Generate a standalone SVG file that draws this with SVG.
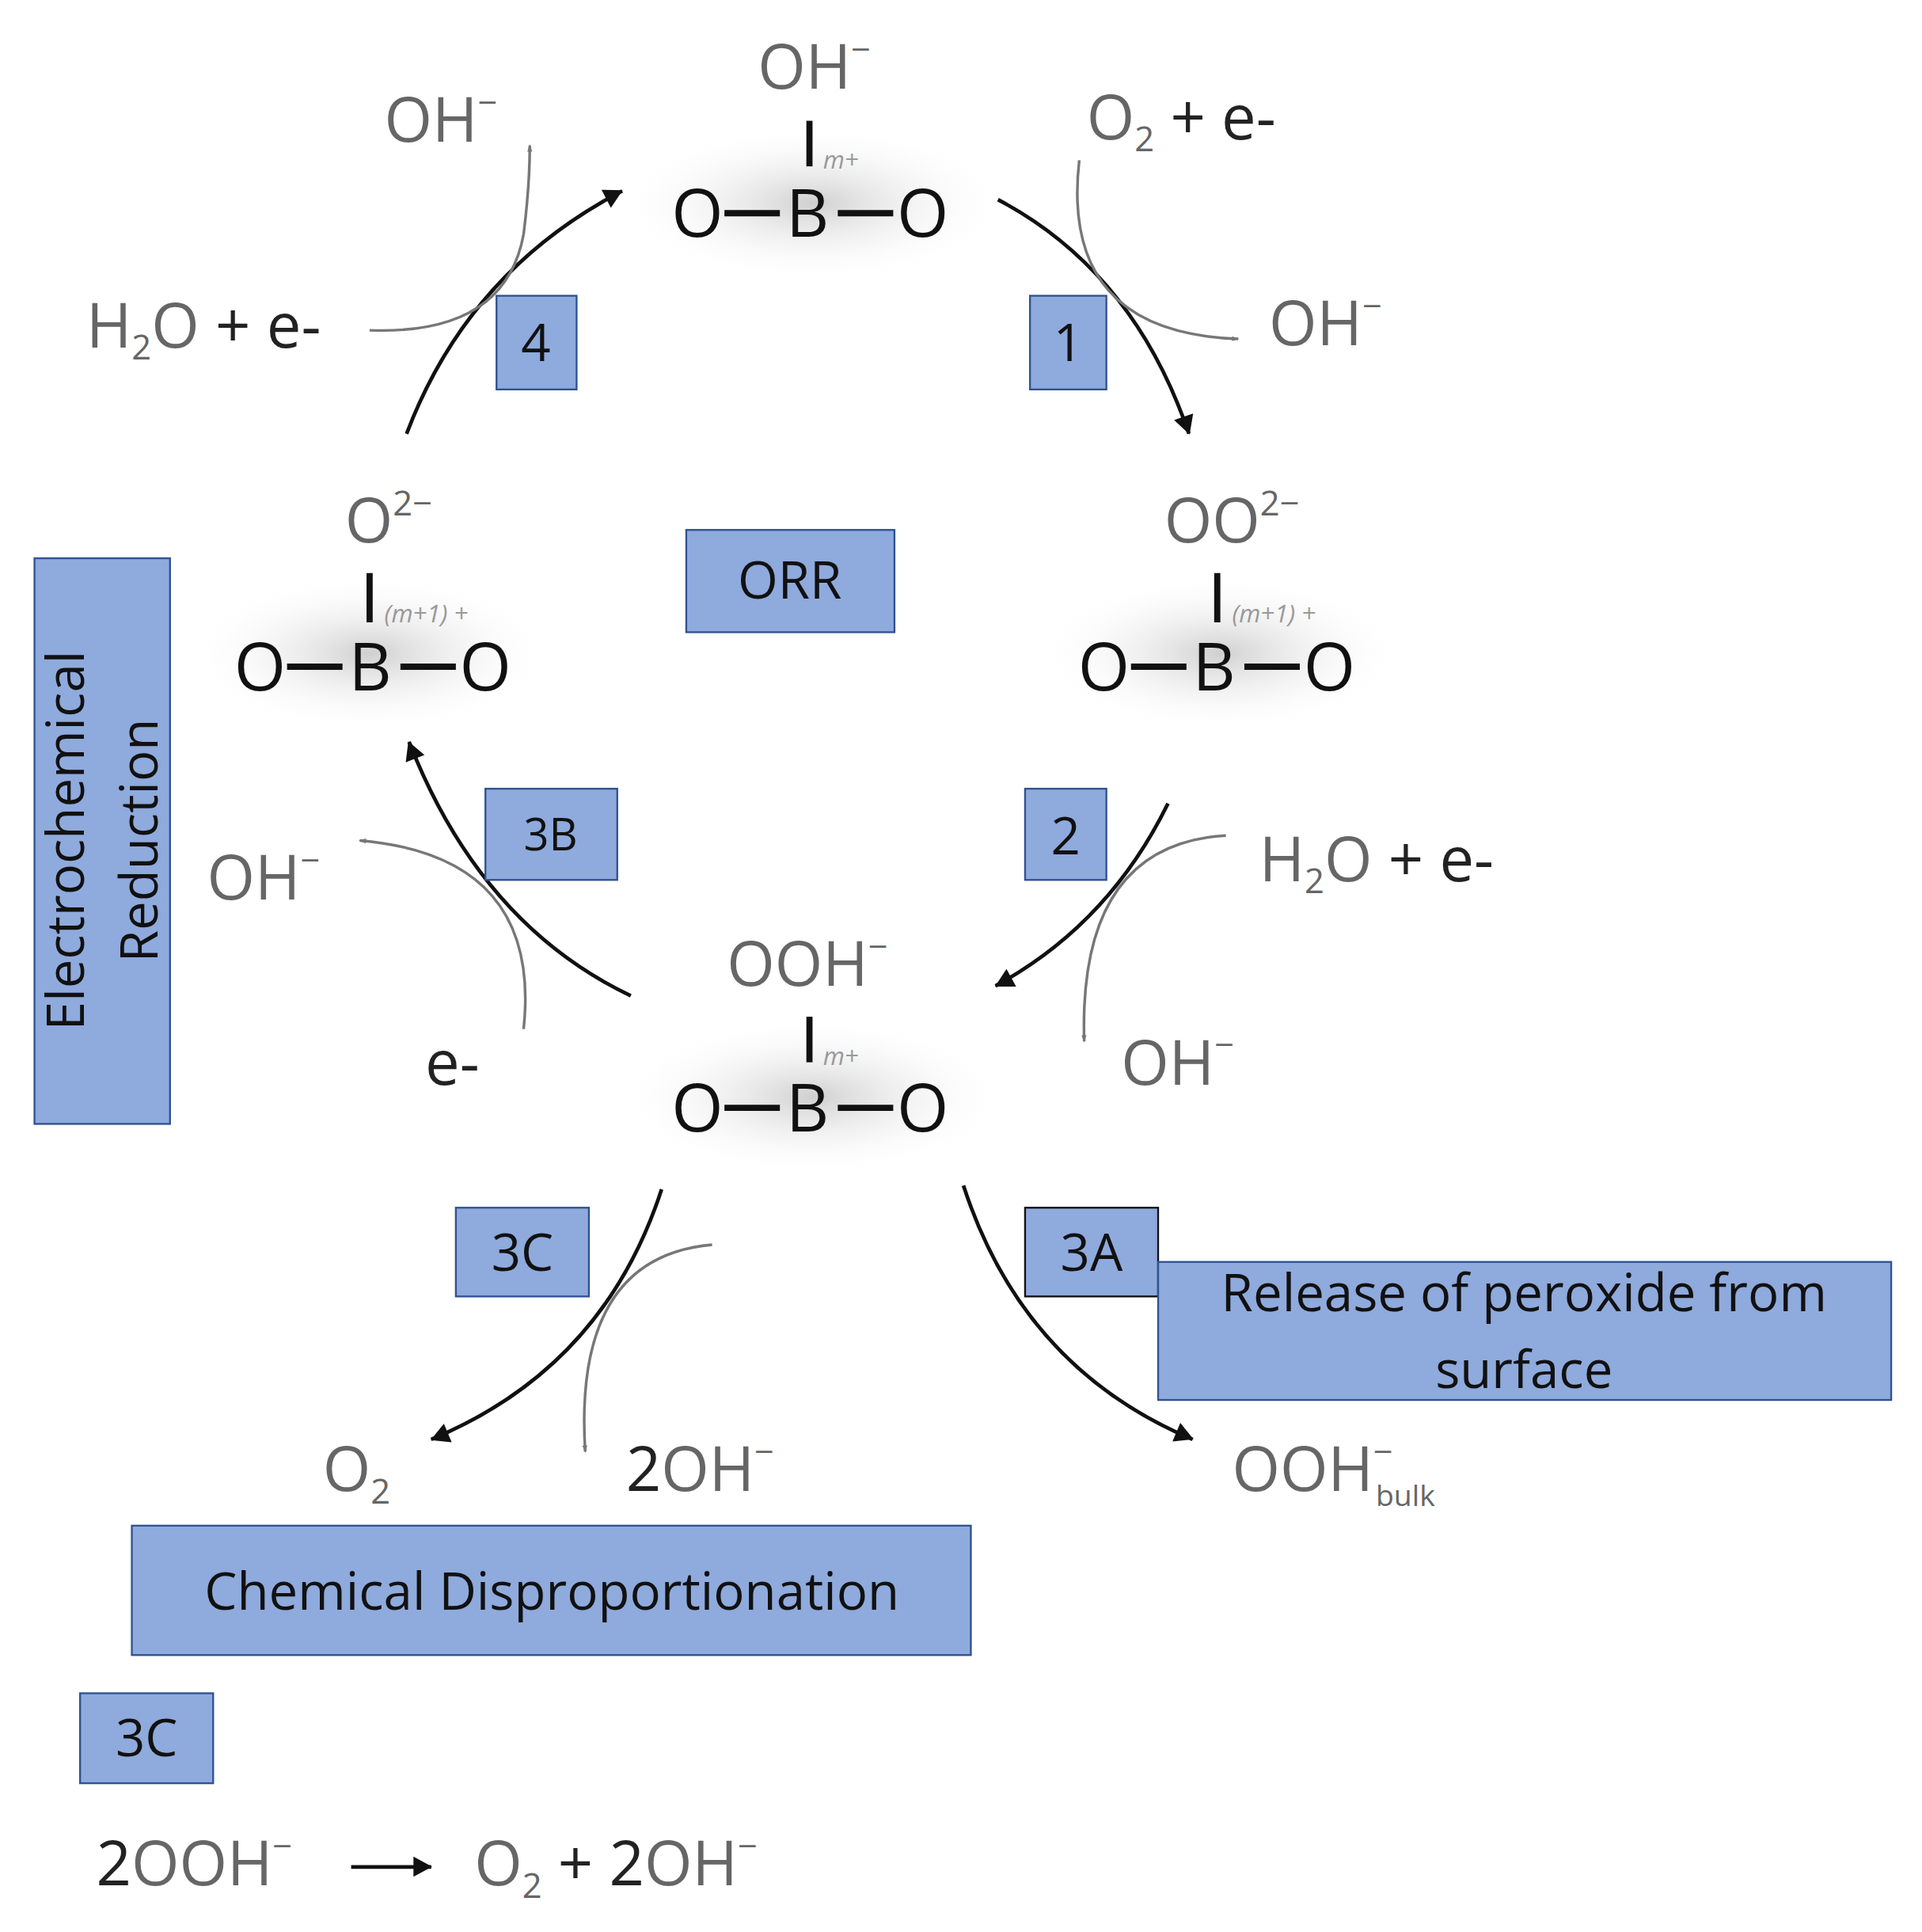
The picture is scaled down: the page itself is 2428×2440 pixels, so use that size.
<svg xmlns="http://www.w3.org/2000/svg" width="2428" height="2440" viewBox="0 0 2428 2440">
<style>
text{font-family:"Open Sans","Noto Sans","Liberation Sans",sans-serif}
.m{font-size:54px;fill:#111}
.g{font-size:50px;fill:#666}
.k{font-size:50px;fill:#222}
.sup{font-size:28px}
.sub{font-size:28px}
.it{font-size:20px;font-style:italic;fill:#999}
.box{fill:#8FAADC;stroke:#2F528F;stroke-width:1.5}
.bt{font-size:42px;fill:#111;text-anchor:middle}
.bond{stroke:#111;stroke-width:5}
.ar{fill:none;stroke:#111;stroke-width:3}
.ga{fill:none;stroke:#777;stroke-width:2.2}
</style>
<defs>
<marker id="ah" viewBox="0 0 10 10" refX="8" refY="5" markerWidth="7" markerHeight="7" orient="auto" markerUnits="userSpaceOnUse" style="overflow:visible"><path d="M-14,-8 L10,5 L-14,18 Z" transform="scale(0.9)" fill="#111"/></marker>
<marker id="gh" viewBox="0 0 10 10" refX="8" refY="5" markerWidth="5" markerHeight="5" orient="auto" markerUnits="userSpaceOnUse" style="overflow:visible"><path d="M-2,1 L10,5 L-2,9 Z" fill="#777"/></marker>
<radialGradient id="sh" cx="0.5" cy="0.5" r="0.5"><stop offset="0" stop-color="#bbb" stop-opacity="0.7"/><stop offset="1" stop-color="#fff" stop-opacity="0"/></radialGradient>
</defs>
<rect width="2428" height="2440" fill="#fff"/>
<g transform="scale(1.5564)">
<g id="shadows">
<ellipse cx="660" cy="165" rx="160" ry="65" fill="url(#sh)"/>
<ellipse cx="300" cy="530" rx="150" ry="65" fill="url(#sh)"/>
<ellipse cx="990" cy="530" rx="150" ry="65" fill="url(#sh)"/>
<ellipse cx="660" cy="890" rx="160" ry="65" fill="url(#sh)"/>
</g>
<g id="mol-top">
<text x="615" y="72" class="g">OH<tspan class="sup" dy="-22">−</tspan></text>
<line x1="657" y1="98" x2="657" y2="135" class="bond"/>
<text x="668" y="137" class="it">m+</text>
<text x="545" y="192" class="m">O</text><line x1="588" y1="173" x2="633" y2="173" class="bond"/>
<text x="638" y="192" class="m">B</text><line x1="680" y1="173" x2="725" y2="173" class="bond"/>
<text x="728" y="192" class="m">O</text>
</g>
<g id="mol-left">
<text x="280" y="440" class="g">O<tspan class="sup" dy="-22">2−</tspan></text>
<line x1="300" y1="465" x2="300" y2="505" class="bond"/>
<text x="312" y="505" class="it">(m+1) +</text>
<text x="190" y="560" class="m">O</text><line x1="233" y1="541" x2="278" y2="541" class="bond"/>
<text x="283" y="560" class="m">B</text><line x1="325" y1="541" x2="370" y2="541" class="bond"/>
<text x="373" y="560" class="m">O</text>
</g>
<g id="mol-right">
<text x="945" y="440" class="g">OO<tspan class="sup" dy="-22">2−</tspan></text>
<line x1="988" y1="465" x2="988" y2="505" class="bond"/>
<text x="1000" y="505" class="it">(m+1) +</text>
<text x="875" y="560" class="m">O</text><line x1="918" y1="541" x2="963" y2="541" class="bond"/>
<text x="968" y="560" class="m">B</text><line x1="1010" y1="541" x2="1055" y2="541" class="bond"/>
<text x="1058" y="560" class="m">O</text>
</g>
<g id="mol-bottom">
<text x="590" y="800" class="g">OOH<tspan class="sup" dy="-22">−</tspan></text>
<line x1="657" y1="825" x2="657" y2="862" class="bond"/>
<text x="668" y="864" class="it">m+</text>
<text x="545" y="918" class="m">O</text><line x1="588" y1="899" x2="633" y2="899" class="bond"/>
<text x="638" y="918" class="m">B</text><line x1="680" y1="899" x2="725" y2="899" class="bond"/>
<text x="728" y="918" class="m">O</text>
</g>
<g id="labels">
<text x="312" y="115" class="g">OH<tspan class="sup" dy="-22">−</tspan></text>
<text x="882" y="113" class="g">O<tspan class="sub" dy="10">2</tspan><tspan dy="-10" fill="#222"> + e-</tspan></text>
<text x="1030" y="280" class="g">OH<tspan class="sup" dy="-22">−</tspan></text>
<text x="70" y="282" class="g">H<tspan class="sub" dy="10">2</tspan><tspan dy="-10">O</tspan><tspan fill="#222"> + e-</tspan></text>
<text x="168" y="730" class="g">OH<tspan class="sup" dy="-22">−</tspan></text>
<text x="345" y="880" class="k">e-</text>
<text x="1022" y="715" class="g">H<tspan class="sub" dy="10">2</tspan><tspan dy="-10">O</tspan><tspan fill="#222"> + e-</tspan></text>
<text x="910" y="880" class="g">OH<tspan class="sup" dy="-22">−</tspan></text>
<text x="262" y="1210" class="g">O<tspan class="sub" dy="10">2</tspan></text>
<text x="508" y="1210" class="k">2<tspan fill="#666">OH</tspan><tspan class="sup" dy="-22" fill="#666">−</tspan></text>
<text x="1000" y="1210" class="g">OOH<tspan class="sup" dy="-22">−</tspan><tspan style="font-size:24px" dx="-14" dy="34">bulk</tspan></text>
<text x="78" y="1530" class="k">2<tspan fill="#666">OOH</tspan><tspan class="sup" dy="-22" fill="#666">−</tspan></text>
<text x="385" y="1530" class="g">O<tspan class="sub" dy="10">2</tspan><tspan dy="-10" fill="#222"> + 2</tspan><tspan>OH</tspan><tspan class="sup" dy="-22">−</tspan></text>
</g>
<g id="connectors">
<path d="M330,352 Q380,220 505,155" class="ar" marker-end="url(#ah)"/>
<path d="M300,268 Q410,272 425,190 Q430,150 430,118" class="ga" marker-end="url(#gh)"/>
<path d="M810,162 Q920,220 965,352" class="ar" marker-end="url(#ah)"/>
<path d="M876,130 Q860,270 1005,275" class="ga" marker-end="url(#gh)"/>
<path d="M948,652 Q900,750 808,800" class="ar" marker-end="url(#ah)"/>
<path d="M995,678 Q875,685 880,845" class="ga" marker-end="url(#gh)"/>
<path d="M512,808 Q390,750 332,602" class="ar" marker-end="url(#ah)"/>
<path d="M425,835 Q440,695 292,682" class="ga" marker-end="url(#gh)"/>
<path d="M537,965 Q490,1110 350,1168" class="ar" marker-end="url(#ah)"/>
<path d="M578,1010 Q465,1020 475,1178" class="ga" marker-end="url(#gh)"/>
<path d="M782,962 Q830,1110 968,1168" class="ar" marker-end="url(#ah)"/>
<path d="M285,1515 L350,1515" class="ar" marker-end="url(#ah)"/>
</g>
<g id="box-4"><rect x="403" y="240" width="65" height="76" class="box"/><text x="435" y="293" class="bt">4</text></g>
<g id="box-1"><rect x="836" y="240" width="62" height="76" class="box"/><text x="867" y="293" class="bt">1</text></g>
<g id="box-orr"><rect x="557" y="430" width="169" height="83" class="box"/><text x="641" y="486" class="bt">ORR</text></g>
<g id="box-ec"><rect x="28" y="453" width="110" height="459" class="box"/><text transform="translate(68,682) rotate(-90)" class="bt">Electrochemical</text><text transform="translate(128,682) rotate(-90)" class="bt">Reduction</text></g>
<g id="box-3b"><rect x="394" y="640" width="107" height="74" class="box"/><text x="447" y="690" class="bt" style="font-size:36px">3B</text></g>
<g id="box-2"><rect x="832" y="640" width="66" height="74" class="box"/><text x="865" y="693" class="bt">2</text></g>
<g id="box-3c"><rect x="370" y="980" width="108" height="72" class="box"/><text x="424" y="1031" class="bt">3C</text></g>
<g id="box-3a"><rect x="832" y="980" width="108" height="72" class="box" style="stroke:#111"/><text x="886" y="1031" class="bt">3A</text></g>
<g id="box-release"><rect x="940" y="1024" width="595" height="112" class="box"/><text x="1237" y="1064" class="bt">Release of peroxide from</text><text x="1237" y="1126" class="bt">surface</text></g>
<g id="box-chem"><rect x="107" y="1238" width="681" height="105" class="box"/><text x="448" y="1306" class="bt">Chemical Disproportionation</text></g>
<g id="box-3c-b"><rect x="65" y="1374" width="108" height="73" class="box"/><text x="119" y="1425" class="bt">3C</text></g>
</g>
</svg>
